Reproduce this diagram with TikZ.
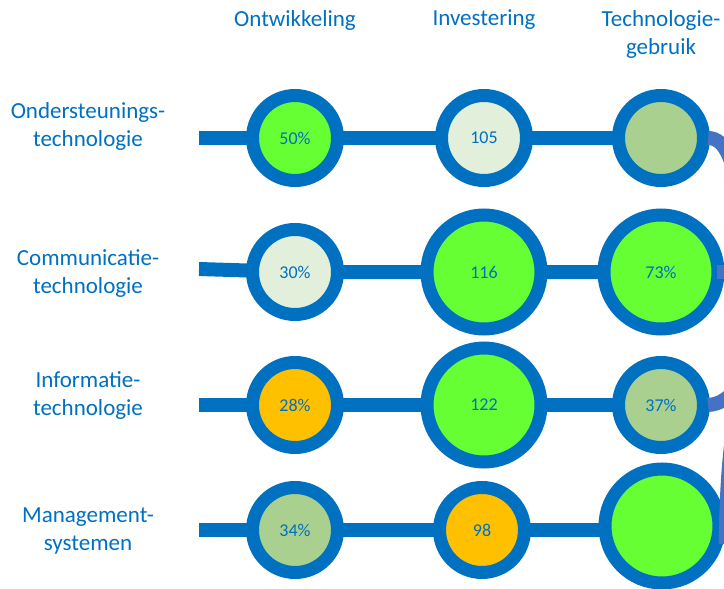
\documentclass[tikz,border=0pt]{standalone}
\usepackage{fontspec}
\setmainfont{Carlito}
\usepackage{tikz}
\usetikzlibrary{positioning, backgrounds}
\usepackage{xcolor}
\definecolor{ringblue}{HTML}{0070C0}
\definecolor{linkblue}{HTML}{4472C4}
\definecolor{brightgreen}{HTML}{66FF33}
\definecolor{palegreen}{HTML}{E2EFDA}
\definecolor{softgreen}{HTML}{A9D08E}
\definecolor{amber}{HTML}{FFC000}

\begin{document}
\begin{tikzpicture}[x=1pt, y=-1pt,
    smallring/.style={circle, draw=ringblue, line width=13pt, minimum size=85pt, inner sep=0pt,
        text=ringblue, font=\fontsize{18}{20}\selectfont},
    bigring/.style={smallring, minimum size=114pt},
    rowlabel/.style={text=ringblue, align=center, font=\fontsize{23}{28}\selectfont},
    bar/.style={draw=ringblue, line width=14pt},
    link/.style={draw=linkblue, line width=14pt}
]
    \useasboundingbox (0,0) rectangle (724,589);
    \clip (0,0) rectangle (724,589);

    % Column headings
    \node[rowlabel] (hont) at (295,20) {Ontwikkeling};
    \node[rowlabel] (hinv) at (484,20) {Investering};
    \node[rowlabel] (hgeb) at (661,34) {Technologie-\\gebruik};

    % Row labels
    \node[rowlabel] (lab1) at (88,126) {Ondersteunings-\\technologie};
    \node[rowlabel] (lab2) at (88,274) {Communicatie-\\technologie};
    \node[rowlabel] (lab3) at (88,396) {Informatie-\\technologie};
    \node[rowlabel] (lab4) at (88,531) {Management-\\systemen};

    % Row 1
    \node[smallring, fill=brightgreen] (o1) at (295,138) {50\%};
    \node[smallring, fill=palegreen] (i1) at (484,138) {105};
    \node[smallring, fill=softgreen] (t1) at (661,138) {};

    % Row 2
    \node[smallring, fill=palegreen] (o2) at (295,272) {30\%};
    \node[bigring, fill=brightgreen] (i2) at (484,272) {116};
    \node[bigring, fill=brightgreen] (t2) at (661,272) {73\%};

    % Row 3
    \node[smallring, fill=amber] (o3) at (295,405) {28\%};
    \node[bigring, fill=brightgreen] (i3) at (484,405) {122};
    \node[smallring, fill=softgreen] (t3) at (661,405) {37\%};

    % Row 4
    \node[smallring, fill=softgreen] (o4) at (295,530) {34\%};
    \node[smallring, fill=amber] (i4) at (482,530) {98};
    \node[bigring, fill=brightgreen] (t4) at (662,526) {};

    % Start points of the bars
    \coordinate (s1) at (199,138);
    \coordinate (s2) at (199,269);
    \coordinate (s3) at (199,405);
    \coordinate (s4) at (199,530);

    % Bars behind the rings
    \begin{scope}[on background layer]
        \foreach \r in {1,2,3,4} {
            \draw[bar] (s\r) -- (o\r.center) -- (i\r.center) -- (i\r.center -| t\r.center);
        }
    \end{scope}

    % Links leaving to the right
    \coordinate (e1) at (742,215);
    \coordinate (e2) at (745,272);
    \coordinate (e3) at (760,340);
    \coordinate (e4) at (734,420);
    \draw[link] ([xshift=-2pt]t1.east) .. controls (725,138) and (735,160) .. (e1);
    \draw[link] ([xshift=-8pt]t2.east) -- (e2);
    \draw[link] ([xshift=-2pt]t3.east) .. controls (728,404) and (745,385) .. (e3);
    \draw[link] ([yshift=-18pt]t4.east) .. controls (727,480) and (729,460) .. (e4);
\end{tikzpicture}
\end{document}
